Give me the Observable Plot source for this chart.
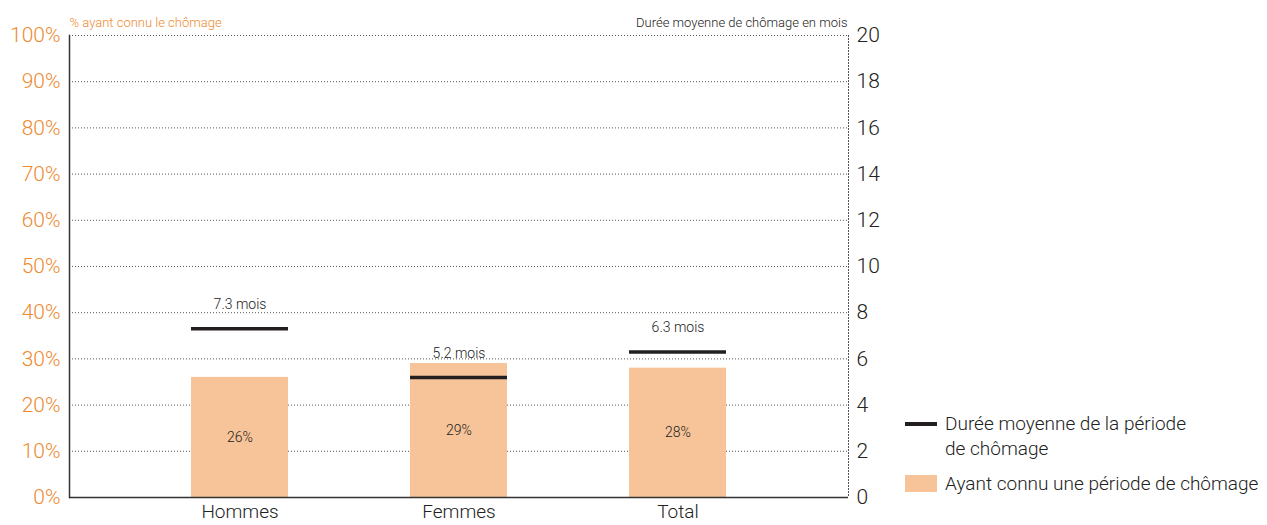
<!DOCTYPE html>
<html>
<head>
<meta charset="utf-8">
<script src="https://cdn.jsdelivr.net/npm/d3@7"></script>
<script src="https://cdn.jsdelivr.net/npm/@observablehq/plot@0.6"></script>
<style>
  html, body { margin: 0; padding: 0; background: #fff; }
  body { font-family: "Roboto", sans-serif; font-weight: 300; }
  #wrap { position: relative; width: 1267px; height: 525px; }
  #legend { position: absolute; left: 905px; top: 411px; color: #222; font-size: 19px; line-height: 25px; }
  .item { display: flex; align-items: flex-start; margin-bottom: 10px; }
  .sw-line { width: 32px; height: 4px; background: #231f20; margin-top: 11px; margin-right: 8px; flex: none; }
  .sw-rect { width: 32px; height: 17px; background: #f6c498; margin-top: 4px; margin-right: 8px; flex: none; }
  svg text { font-weight: 300; }
</style>
</head>
<body>
<div id="wrap">
  <div id="chart"></div>
  <div id="legend">
    <div class="item"><div class="sw-line"></div><div>Durée moyenne de la période<br>de chômage</div></div>
    <div class="item"><div class="sw-rect"></div><div>Ayant connu une période de chômage</div></div>
  </div>
</div>
<script>
const categories = ["Hommes", "Femmes", "Total"];
const pctChomage = [26, 29, 28];          // % ayant connu le chômage
const dureeMois = [7.3, 5.2, 6.3];        // durée moyenne en mois
const leftTicks = [0, 10, 20, 30, 40, 50, 60, 70, 80, 90, 100];
const rightTicks = [0, 2, 4, 6, 8, 10, 12, 14, 16, 18, 20];

const ORANGE = "#ee8a30";
const BAR = "#f6c498";
const DARK = "#222222";
const RATIO = 100 / 20; // right axis 0-20 mapped onto 0-100

const data = categories.map((c, i) => ({cat: c, pct: pctChomage[i], dur: dureeMois[i]}));

const chart = Plot.plot({
  width: 1267,
  height: 525,
  marginLeft: 69,
  marginRight: 419,
  marginTop: 35,
  marginBottom: 28,
  style: {fontFamily: '"Roboto", sans-serif', background: "white"},
  x: {domain: categories, padding: 0.557},
  y: {domain: [0, 100]},
  marks: [
    Plot.gridY(leftTicks.slice(1), {stroke: "#555", strokeOpacity: 1, strokeWidth: 1, strokeDasharray: "1,2"}),
    Plot.frame({anchor: "right", stroke: "#555", strokeDasharray: "1,2"}),
    Plot.barY(data, {x: "cat", y: "pct", fill: BAR}),
    Plot.tickY(data, {x: "cat", y: d => d.dur * RATIO, stroke: "#231f20", strokeWidth: 3.5}),
    Plot.text(data, {x: "cat", y: d => d.pct / 2, text: d => d.pct + "%", fontSize: 14, fill: DARK}),
    Plot.text(data, {x: "cat", y: d => d.dur * RATIO, dy: -24, text: d => d.dur + " mois", fontSize: 14, fill: DARK}),
    Plot.frame({anchor: "left", stroke: "#333", strokeWidth: 1.5}),
    Plot.ruleY([0], {stroke: "#333", strokeWidth: 1.5}),
    Plot.axisY({anchor: "left", ticks: leftTicks, tickFormat: d => d + "%", tickSize: 0, tickPadding: 9, fontSize: 21, fill: ORANGE, label: null}),
    Plot.axisY({anchor: "right", ticks: rightTicks.map(t => t * RATIO), tickFormat: d => d / RATIO, tickSize: 0, tickPadding: 8, fontSize: 21, fill: DARK, label: null}),
    Plot.axisX({tickSize: 0, tickPadding: 7, fontSize: 19, fill: DARK, label: null}),
    Plot.text(["% ayant connu le chômage"], {frameAnchor: "top-left", dy: -18, dx: 0, text: d => d, fill: ORANGE, fontSize: 13, textAnchor: "start"}),
    Plot.text(["Durée moyenne de chômage en mois"], {frameAnchor: "top-right", dy: -18, dx: -1, text: d => d, fill: DARK, fontSize: 13, textAnchor: "end"})
  ]
});
document.getElementById("chart").appendChild(chart);
</script>
</body>
</html>
